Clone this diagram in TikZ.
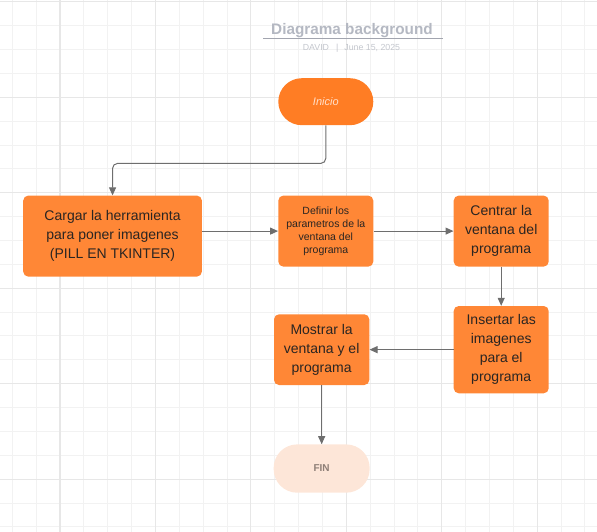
\documentclass[tikz,border=0pt]{standalone}
\usepackage{fontspec}
\setmainfont{Liberation Sans}
\usepackage{xcolor}
\usepackage{tikz}
\usetikzlibrary{arrows.meta, positioning, calc}

\definecolor{naranja}{HTML}{FF8736}
\definecolor{naranjainicio}{HTML}{FF7D24}
\definecolor{durazno}{HTML}{FDE6D8}
\definecolor{iniciotexto}{HTML}{FFE0CB}
\definecolor{fintexto}{HTML}{8E7F77}
\definecolor{gridmenor}{HTML}{F2F2F2}
\definecolor{gridmayor}{HTML}{E7E7E7}
\definecolor{titulo}{HTML}{B4B8C2}
\definecolor{subtitulo}{HTML}{C3C6CD}
\definecolor{flecha}{HTML}{6E6E6E}
\definecolor{texto}{HTML}{2A2522}

\begin{document}
\begin{tikzpicture}[
    x=1pt, y=-1pt,
    node distance=70pt,
    paso/.style={rectangle, rounded corners=5pt, fill=naranja, text=texto, minimum width=95pt, align=center, inner sep=2pt, font=\fontsize{14}{19}\selectfont},
    pasochico/.style={paso, font=\fontsize{10.5}{13}\selectfont},
    terminal/.style={rectangle, rounded corners=23.5pt, minimum width=95pt, minimum height=47pt, align=center},
    arrow/.style={draw=flecha, line width=1pt, -{Triangle[length=8pt, width=7pt]}}
]
\useasboundingbox (0,0) rectangle (597,532);

% Cuadricula
\foreach \k in {0,...,24}
  \draw [gridmenor, line width=0.9pt] ({12.3+23.86*\k},0) -- ({12.3+23.86*\k},532);
\foreach \k in {0,...,22}
  \draw [gridmenor, line width=0.9pt] (0,{1.9+23.86*\k}) -- (597,{1.9+23.86*\k});
\foreach \k in {0,...,5} {
  \draw [gridmayor, line width=1.1pt] ({60+95.45*\k},0) -- ({60+95.45*\k},532);
  \draw [gridmayor, line width=1.1pt] (0,{1.9+95.45*\k}) -- (597,{1.9+95.45*\k});
}

% Titulo
\node (titulo) [anchor=base, text=titulo, font=\bfseries\fontsize{15.3}{18}\selectfont] at (352,34.5) {Diagrama background};
\draw [titulo!90!black, line width=1.2pt] (263,38.5) -- (443,38.5);
\node (autor) [anchor=base, text=subtitulo, font=\fontsize{8.8}{10}\selectfont] at (351.5,51) {DAVID\hspace{7pt}|\hspace{6pt}June 15, 2025};

% Nodos
\node (inicio) [terminal, fill=naranjainicio, text=iniciotexto, font=\itshape\fontsize{11}{13}\selectfont] at (325.8,101.7) {Inicio};
\node (definir) [pasochico, minimum height=71pt, below=of inicio] {Definir los\\parametros de la\\ventana del\\programa};
\node (cargar) [paso, minimum width=178.7pt, minimum height=81pt, left=76pt of definir, yshift=-5pt] {Cargar la herramienta\\para poner imagenes\\(PILL EN TKINTER)};
\node (centrar) [paso, minimum height=71pt, right=80pt of definir] {Centrar la\\ventana del\\programa};
\node (insertar) [paso, minimum height=87.3pt, below=39pt of centrar] {Insertar las\\imagenes\\para el\\programa};
\node (mostrar) [paso, minimum width=95.3pt, minimum height=70.7pt, left=84pt of insertar] {Mostrar la\\ventana y el\\programa};
\node (fin) [terminal, fill=durazno, text=fintexto, font=\bfseries\fontsize{10}{12}\selectfont, minimum width=96pt, minimum height=48.3pt, below=59pt of mostrar] {FIN};

% Flechas
\draw [arrow, rounded corners=5pt] (inicio.south) -- ++(0,38) -| (cargar.north);
\draw [arrow] (cargar.east |- definir.west) -- (definir.west);
\draw [arrow] (definir) -- (centrar);
\draw [arrow] (centrar) -- (insertar);
\draw [arrow] (insertar) -- (mostrar);
\draw [arrow] (mostrar) -- (fin);

\end{tikzpicture}
\end{document}
